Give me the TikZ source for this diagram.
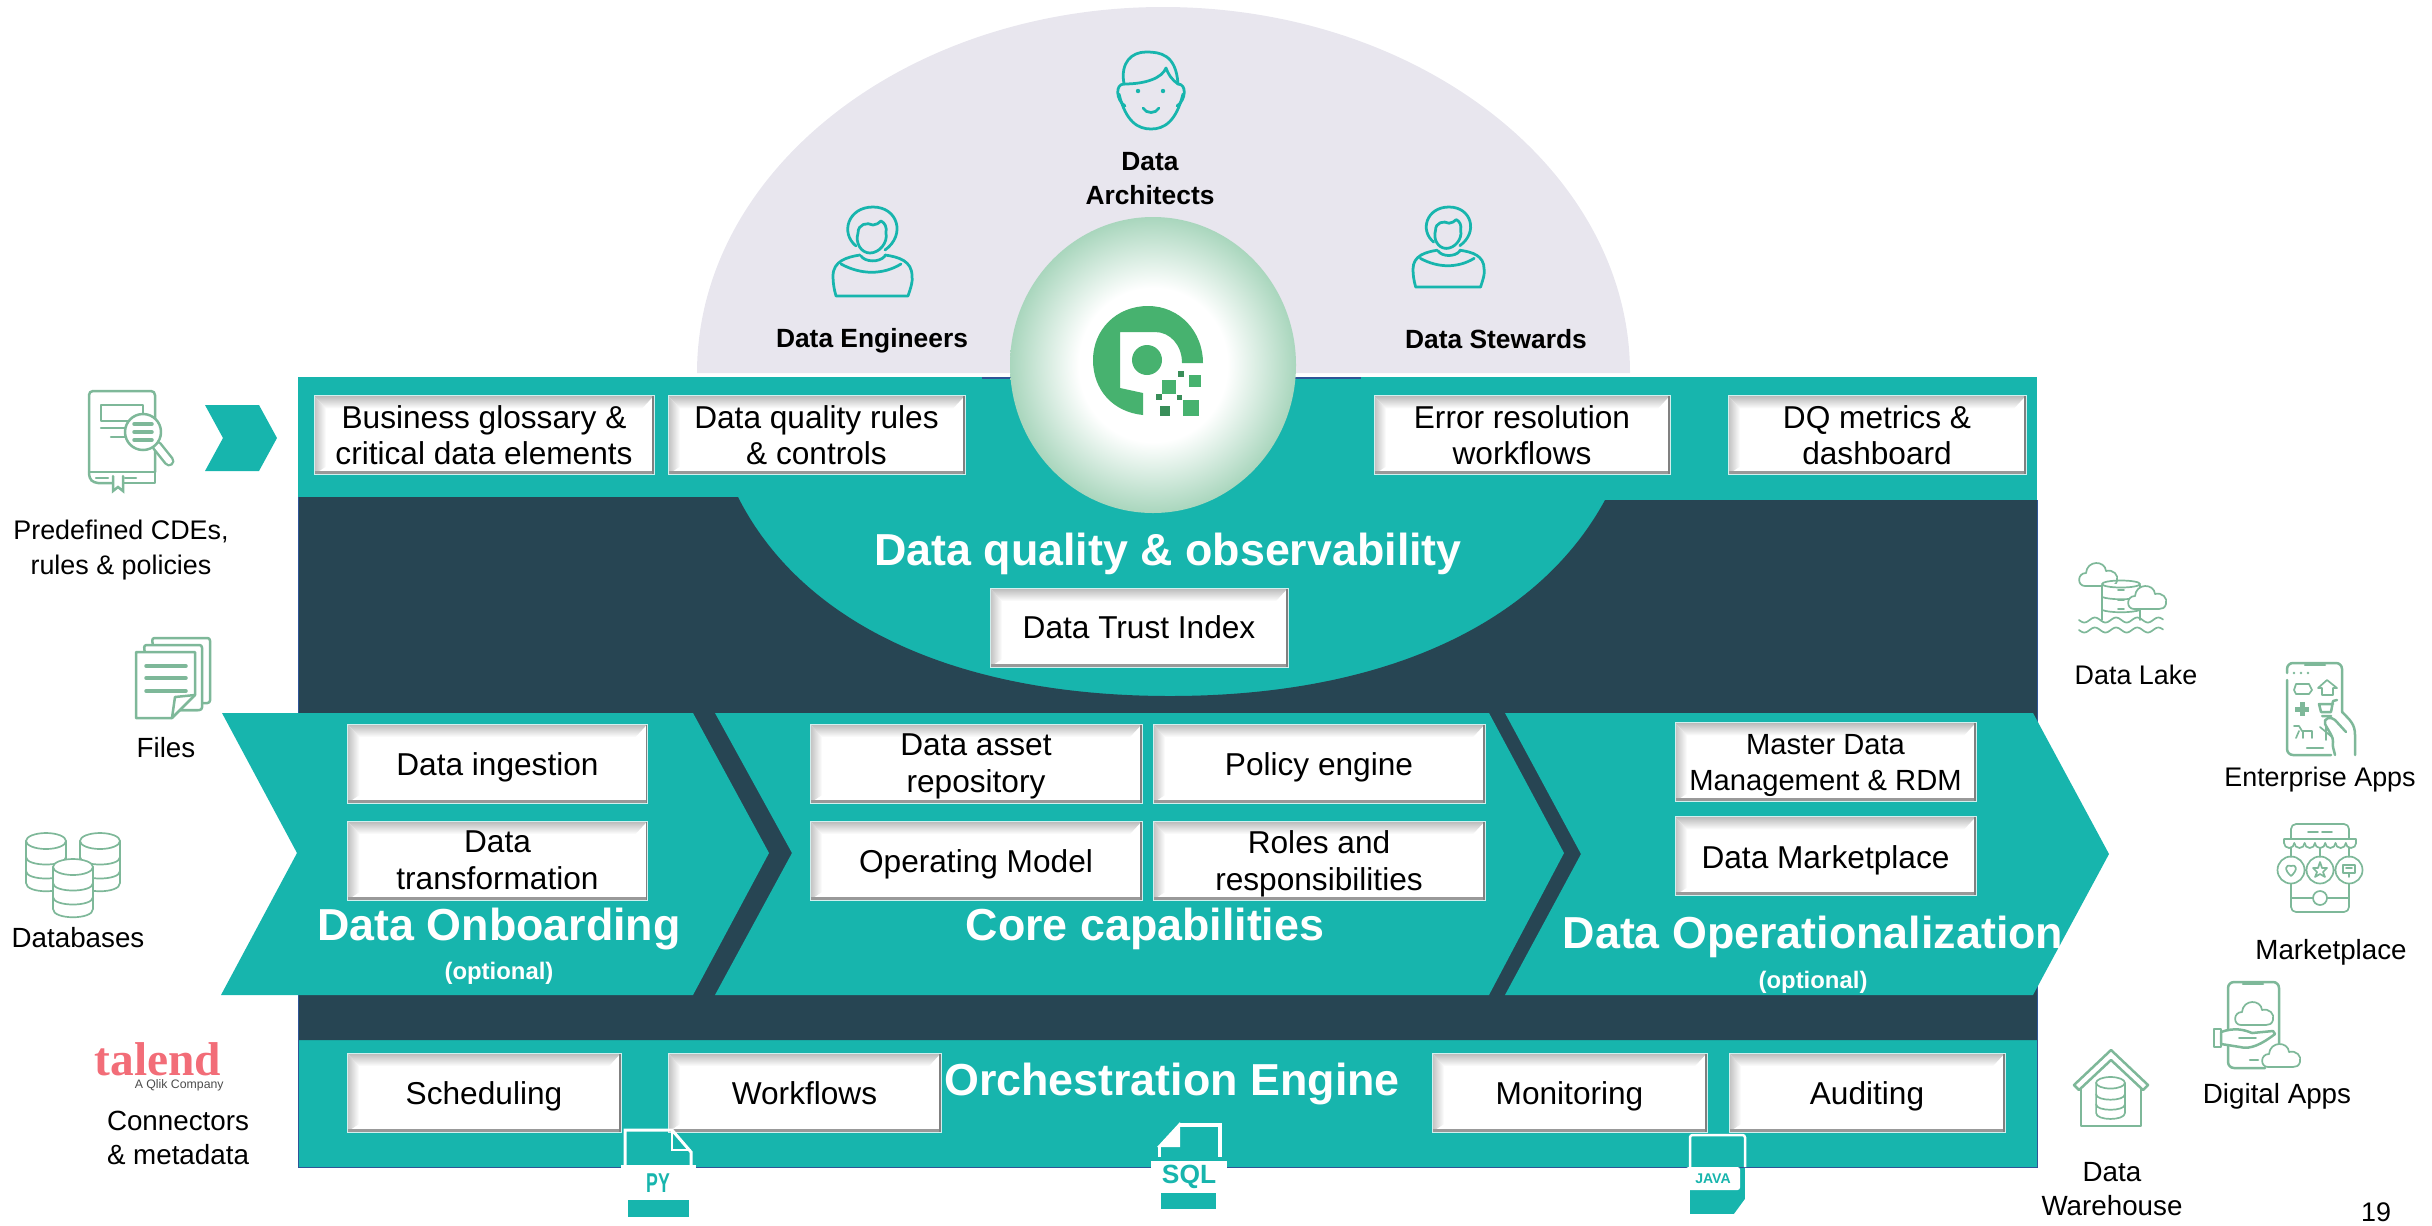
\documentclass[tikz,border=0pt]{standalone}
\usepackage{fontspec}
\usepackage{tikz}
\usetikzlibrary{positioning}
\usetikzlibrary{shapes}
\setmainfont{Liberation Sans}
\newfontfamily\talendfont{Liberation Serif}
\newfontfamily\narrowfont[FakeStretch=0.65]{Liberation Sans}
\definecolor{panelteal}{HTML}{17B5AD}
\definecolor{paneldark}{HTML}{274553}
\definecolor{domegrey}{HTML}{E8E6EE}
\definecolor{icongreen}{HTML}{7EB899}
\definecolor{logogreen}{HTML}{47B26F}
\definecolor{ballgreen}{HTML}{A9D6BD}
\definecolor{edgeblue}{HTML}{2F5597}
\definecolor{talendred}{HTML}{F26D78}
\pgfdeclareradialshading{ballglow}{\pgfpointorigin}{color(0bp)=(white); color(13bp)=(white); color(25bp)=(ballgreen); color(50bp)=(ballgreen)}
\tikzset{
  panel/.style = {fill = panelteal},
  icon/.style = {draw = icongreen, line width = .5mm, line join = round, line cap = round},
  thinicon/.style = {icon, line width = .34mm},
  personline/.style = {draw = panelteal, line width = .55mm, line join = round, line cap = round},
  filetext/.style = {text = panelteal, font = \fontsize{15}{15}\selectfont\bfseries, inner sep = 0pt},
  sidetext/.style = {align = center, inner sep = 0pt, font = \fontsize{15.8}{19.4}\selectfont},
  sidesmall/.style = {sidetext, font = \fontsize{15.3}{19.4}\selectfont},
  roletext/.style = {align = center, inner sep = 0pt, font = \fontsize{15}{19.4}\selectfont\bfseries},
  titletext/.style = {text = white, inner sep = 0pt, font = \fontsize{25.5}{30}\selectfont\bfseries},
  notetext/.style = {text = white, inner sep = 0pt, font = \fontsize{13.6}{16}\selectfont\bfseries},
  bevelbox/.style = {
    fill = white, draw = white!80!panelteal, line width = .2mm, align = center, inner sep = 0pt,
    minimum height = 15.8mm, font = \fontsize{18}{21}\selectfont,
    path picture = {
      \path (path picture bounding box.north west) coordinate (nw)
            (path picture bounding box.north east) coordinate (ne)
            (path picture bounding box.south west) coordinate (sw)
            (path picture bounding box.south east) coordinate (se);
      \shade [top color = black!28, bottom color = white]
        (nw) -- (ne) -- ([shift = {(-2.4mm,-2.6mm)}]ne) -- ([shift = {(2.4mm,-2.6mm)}]nw) -- cycle;
      \shade [left color = black!25, right color = white]
        (nw) -- ([shift = {(2.4mm,-2.6mm)}]nw) -- ([shift = {(2.4mm,1.6mm)}]sw) -- (sw) -- cycle;
      \fill [black!40] (sw) -- (se) -- ([yshift = .7mm]se) -- ([yshift = .7mm]sw) -- cycle;
      \fill [black!50] (ne) -- (se) -- ([xshift = -.4mm]se) -- ([xshift = -.4mm]ne) -- cycle;
    }
  },
  lowbox/.style = {bevelbox, execute at begin node = {\rule[-4pt]{0pt}{22pt}}},
  pics/person/.style = {code = {
    \draw [personline] (-17,39) .. controls (-33,26) and (-25,0) .. (0,0) .. controls (25,0) and (33,28) .. (12,43);
    \draw [personline] (-15,26) .. controls (-15,17) and (-6,15) .. (0,18) .. controls (3,18) and (6,16) .. (8,14)
      .. controls (12,16) and (14,20) .. (13,26) .. controls (15,36) and (6,46) .. (-3,46)
      .. controls (-12,46) and (-18,36) .. (-15,26) -- cycle;
    \draw [personline] (-13,48) .. controls (-26,50) and (-40,54) .. (-40,69) .. controls (-40,76) and (-39,82) .. (-37,89)
      -- (35,89) .. controls (38,80) and (40,74) .. (39,69) .. controls (39,54) and (26,50) .. (12,48);
    \draw [personline] (-32,57) .. controls (-12,68) and (10,68) .. (28,57);
    \draw [personline] (-12,49) .. controls (-8,55) and (6,56) .. (12,49);
  }},
  pics/cloud/.style = {code = {
    \draw [thinicon, fill = white] (6,23) .. controls (-2,23) and (-2,10) .. (7,10) .. controls (8,-3) and (26,-3) .. (27,8)
      .. controls (34,6) and (40,12) .. (38,18) .. controls (37,22) and (34,23) .. (31,23) -- cycle;
  }},
  pics/dbstack/.style = {code = {
    \draw [thinicon, fill = white] (-20,8) -- (-20,50) .. controls (-20,61) and (20,61) .. (20,50) -- (20,8);
    \draw [thinicon, fill = white] (0,8) ellipse [x radius = 20, y radius = 8];
    \draw [thinicon] (-20,24) .. controls (-20,34) and (20,34) .. (20,24);
    \draw [thinicon] (-20,38) .. controls (-20,48) and (20,48) .. (20,38);
  }},
}
\begin{document}
\begin{tikzpicture}[x = .2mm, y = -.2mm]
  \useasboundingbox (0,0) rectangle (2432,1225);
  % background
  \fill [domegrey] (697,373) .. controls (697,171) and (906,7) .. (1163,7)
    .. controls (1420,7) and (1630,171) .. (1630,373) -- cycle;
  \fill [panel] (298,377) rectangle (2037,1167);
  \fill [paneldark] (298,497) -- (738,497) .. controls (800,620) and (950,696) .. (1170,696)
    .. controls (1390,696) and (1540,620) .. (1605,500) -- (2037,500) -- (2037,1040) -- (298,1040) -- cycle;
  \draw [edgeblue, line width = .2mm] (298,497) -- (298,1167) -- (2037,1167) -- (2037,500);
  \draw [edgeblue, line width = .3mm] (982,378) -- (1361,378);
  \fill [white] (621,1165) rectangle (696,1170);
  % chevrons
  \fill [panel] (205,405) -- (259,405) -- (277,438) -- (259,471) -- (205,471) -- (223,438) -- cycle;
  \fill [panel] (222,713) -- (693,713) -- (769,853) -- (693,995) -- (221,995) -- (297,853) -- cycle;
  \fill [panel] (715,713) -- (1489,713) -- (1564,853) -- (1489,995) -- (715,995) -- (792,853) -- cycle;
  \fill [panel] (1505,713) -- (2033,713) -- (2109,854) -- (2033,995) -- (1505,995) -- (1581,854) -- cycle;
  % logo
  \shade [shading = ballglow] (1153,365) ellipse [x radius = 143, y radius = 148];
  \fill [logogreen] (1143,415) .. controls (1113,412) and (1093,390) .. (1093,360)
    .. controls (1093,330) and (1116,306) .. (1148,306) .. controls (1180,306) and (1203,332) .. (1203,363)
    -- (1182,363) .. controls (1182,345) and (1170,332) .. (1155,332) -- (1120,332) -- (1120,388) -- (1143,393) -- cycle;
  \fill [logogreen] (1147,360) circle [radius = 15];
  \fill [logogreen] (1162,380) rectangle (1176,394);
  \fill [logogreen] (1189,375) rectangle (1201,387);
  \fill [logogreen] (1183,400) rectangle (1199,416);
  \fill [logogreen!80!black] (1160,406) rectangle (1170,416);
  \fill [logogreen!80!black] (1178,371) rectangle (1184,377);
  \fill [logogreen!80!black] (1156,394) rectangle (1162,400);
  \fill [logogreen!80!black] (1177,395) rectangle (1182,400);
  % nodes
  \node [bevelbox, text depth = -2pt, minimum width = 68mm] (gloss) at (484,435) {Business glossary \&\\critical data elements};
  \node [bevelbox, text depth = -2pt, minimum width = 59.4mm, right = 2.6mm of gloss] (rules) {Data quality rules\\\& controls};
  \node [bevelbox, text depth = -2pt, minimum width = 59.2mm] (errors) at (1522,435) {Error resolution\\workflows};
  \node [bevelbox, text depth = -2pt, minimum width = 59.6mm] (metrics) at (1877,435) {DQ metrics \&\\dashboard};
  \node [bevelbox, text depth = -2pt, minimum width = 59.6mm] (trust) at (1139,627.5) {Data Trust Index};
  \node [lowbox, minimum width = 60mm] (ingest) at (497.5,763.5) {Data ingestion};
  \node [bevelbox, minimum width = 60mm, below = 3.4mm of ingest] (transform) {Data\\transformation};
  \node [bevelbox, text depth = -3.2pt, minimum width = 66.4mm] (asset) at (976,763.5) {Data asset\\repository};
  \node [lowbox, minimum width = 66.4mm, right = 2mm of asset] (policy) {Policy engine};
  \node [lowbox, minimum width = 66.4mm, below = 3.4mm of asset] (model) {Operating Model};
  \node [bevelbox, text depth = -.6pt, minimum width = 66.4mm, below = 3.4mm of policy] (roles) {Roles and\\responsibilities};
  \node [bevelbox, text depth = -3.2pt, minimum width = 60.2mm, font = \fontsize{16.6}{20.5}\selectfont] (master) at (1825.5,762) {Master Data\\Management \& RDM};
  \node [lowbox, minimum width = 60.2mm, below = 2.8mm of master] (market) {Data Marketplace};
  \node [lowbox, minimum width = 54.8mm] (sched) at (484,1092.5) {Scheduling};
  \node [lowbox, minimum width = 54.6mm, right = 9.2mm of sched] (flows) {Workflows};
  \node [lowbox, minimum width = 55mm] (monitor) at (1569.5,1092.5) {Monitoring};
  \node [lowbox, minimum width = 55.2mm, right = 4.2mm of monitor] (audit) {Auditing};
  % titles
  \node [titletext] (quality) at (1168,554) {Data quality \& observability};
  \node [titletext] (onboard) at (499,929) {Data Onboarding};
  \node [notetext, below = 2.2mm of onboard] (onboardnote) {(optional)};
  \node [titletext] (core) at (1145,929) {Core capabilities};
  \node [titletext] (operate) at (1813,937) {Data Operationalization};
  \node [notetext, below = 2.5mm of operate] (operatenote) {(optional)};
  \node [titletext] (engine) at (1172,1084) {Orchestration Engine};
  % labels
  \node [roletext] (architects) at (1150,179) {Data\\Architects};
  \node [roletext] (engineers) at (872,341) {Data Engineers};
  \node [roletext] (stewards) at (1496,339) {Data Stewards};
  \node [sidesmall] (cdes) at (121,550) {Predefined CDEs,\\rules \& policies};
  \node [sidetext] (files) at (166,748) {Files};
  \node [sidetext] (databases) at (78,938) {Databases};
  \node [sidetext] (connectors) at (178,1138) {Connectors\\\& metadata};
  \node [sidesmall] (lake) at (2136,675) {Data Lake};
  \node [sidesmall] (enterprise) at (2320,780) {Enterprise Apps};
  \node [sidetext] (marketplace) at (2331,952) {Marketplace};
  \node [sidetext] (digital) at (2277,1096) {Digital Apps};
  \node [sidetext] (warehouse) at (2112,1189) {Data\\Warehouse};
  \node [sidesmall] (page) at (2376,1212) {19};
  \node [inner sep = 0pt, text = talendred, font = \fontsize{27}{27}\selectfont\talendfont\bfseries] (talend) at (158,1059) {talend};
  \node [inner sep = 0pt, anchor = east, font = \fontsize{7}{7.5}\selectfont, text = black!70] (qlik) at (224,1085) {A Qlik Company};
  % people
  \draw [personline] (1119,94) .. controls (1126,122) and (1138,129) .. (1151,129) .. controls (1164,129) and (1176,122) .. (1183,94);
  \draw [personline] (1124,84) .. controls (1115,84) and (1116,100) .. (1125,106);
  \draw [personline] (1178,84) .. controls (1187,84) and (1186,100) .. (1177,106);
  \draw [personline] (1124,84) .. controls (1120,62) and (1132,52) .. (1146,52) .. controls (1160,52) and (1176,54) .. (1178,84);
  \draw [personline] (1124,84) .. controls (1146,84) and (1162,78) .. (1166,68) .. controls (1168,74) and (1172,80) .. (1178,84);
  \fill [panelteal] (1138,91) circle [radius = 2.2] (1163,91) circle [radius = 2.2];
  \draw [personline] (1143,108) .. controls (1146,114) and (1156,114) .. (1159,108);
  \pic at (873,207) {person};
  \pic [scale = .9] at (1449,207) {person};
  % file icons
  \draw [draw = white, line width = .6mm] (625,1166) -- (625,1130) -- (672,1130) -- (691,1152) -- (691,1166);
  \draw [draw = white, line width = .5mm] (672,1130) -- (672,1150) -- (691,1150);
  \node [filetext, font = \fontsize{15.5}{16}\selectfont\narrowfont\bfseries] (py) at (658,1183) {PY};
  \fill [panel] (628,1200) rectangle (689,1217);
  \draw [draw = white, line width = .6mm] (1159,1157) -- (1159,1147);
  \fill [white] (1180,1122) -- (1157,1147) -- (1180,1147) -- cycle;
  \draw [draw = white, line width = .8mm] (1180,1125) -- (1220,1125) -- (1220,1157);
  \fill [white] (1151,1161) rectangle (1227,1193);
  \node [filetext] (sql) at (1189,1177) {SQL};
  \fill [panel] (1161,1193) rectangle (1216,1209);
  \draw [draw = white, line width = .5mm, rounded corners = .5mm] (1690,1167) -- (1690,1135) -- (1745,1135) -- (1745,1167);
  \fill [panel] (1690,1168) rectangle (1745,1214);
  \fill [white, rounded corners = .5mm] (1686,1167) rectangle (1740,1190);
  \node [filetext, font = \fontsize{8}{9}\selectfont\bfseries] (java) at (1713,1178.5) {JAVA};
  \fill [white] (1745,1199) -- (1734,1214) -- (1745,1214) -- cycle;
  % book
  \draw [icon, rounded corners = .8mm] (155,472) -- (155,391) -- (89,391) -- (89,478) -- (94,483) -- (112,483);
  \draw [icon] (101,405) rectangle (143,421);
  \draw [icon] (101,428) -- (125,428) (111,437) -- (125,437);
  \draw [icon] (89,472) -- (155,472) (124,483) -- (155,483) -- (155,472);
  \draw [icon] (96,478) -- (108,478) (125,478) -- (136,478);
  \draw [icon, line join = miter] (113,476) -- (113,491) -- (118,487) -- (123,491) -- (123,476);
  \draw [icongreen, line width = 2.2mm, line cap = round] (157,446) -- (169,461);
  \draw [white, line width = 1.2mm, line cap = round] (157,446) -- (169,461);
  \draw [icon, fill = white] (143,432) circle [radius = 18];
  \draw [icon, line width = .7mm] (134,424) -- (152,424) (134,432) -- (152,432) (134,440) -- (152,440);
  % files
  \draw [icon, fill = white, rounded corners = .5mm] (152,638) -- (210,638) -- (210,703) -- (200,703) -- (200,710) -- (160,710) -- cycle;
  \draw [icon, fill = white, rounded corners = .5mm] (144,645) -- (202,645) -- (202,710) -- (150,710) -- cycle;
  \draw [icon, fill = white] (136,652) -- (195,652) -- (195,695) -- (172,718) -- (136,718) -- cycle;
  \draw [icon] (195,695) -- (175,697) -- (172,718);
  \draw [icon, line width = .7mm] (146,666) -- (186,666) (146,678) -- (186,678) (146,691) -- (186,691);
  % databases
  \pic at (46,833) {dbstack};
  \pic at (100,833) {dbstack};
  \pic at (73,859) {dbstack};
  % data lake
  \pic at (2079,563) {cloud};
  \fill [white] (2102,584) rectangle (2140,620);
  \draw [thinicon] (2102,585) -- (2102,620) (2140,585) -- (2140,620);
  \draw [thinicon] (2121,584) ellipse [x radius = 19, y radius = 3.5];
  \draw [thinicon] (2102,597) .. controls (2110,600) and (2132,600) .. (2140,597)
    (2102,610) .. controls (2110,613) and (2132,613) .. (2140,610);
  \draw [thinicon] (2118,590) -- (2124,590) (2118,600) -- (2124,600) (2118,609) -- (2124,609);
  \pic at (2128,586) {cloud};
  \draw [thinicon, domain = 2079:2163, samples = 60] plot (\x, {620 + 2.5*sin((\x - 2079)*17)});
  \draw [thinicon, domain = 2079:2163, samples = 60] plot (\x, {630 + 2.5*sin((\x - 2079)*17)});
  % enterprise apps
  \draw [icon, rounded corners = 1.2mm] (2287,673) -- (2287,663) -- (2342,663) -- (2342,712);
  \draw [icon, rounded corners = 1.2mm] (2287,680) -- (2287,755) -- (2331,755);
  \draw [icon] (2305,665) -- (2325,665) (2307,748) -- (2323,748);
  \fill [icongreen] (2294,673) circle [radius = 1.3] (2301,673) circle [radius = 1.3] (2308,673) circle [radius = 1.3];
  \draw [thinicon] (2294,690) -- (2296,684) -- (2309,684) -- (2312,690) -- (2309,694) -- (2296,694) -- cycle;
  \draw [thinicon, fill = white] (2318,688) -- (2327,680) -- (2337,688) -- (2333,688) -- (2333,695) -- (2322,695) -- (2322,688) -- cycle;
  \draw [icongreen, line width = 1mm] (2302,702) -- (2302,716) (2295,709) -- (2309,709);
  \draw [icon] (2337,700) -- (2333,701) -- (2331,712) -- (2321,712) -- (2319,704) -- (2333,704) (2322,716) -- (2331,716);
  \draw [thinicon] (2294,726) -- (2299,726) -- (2302,731) -- (2312,731) -- (2312,738) (2303,731) -- (2303,738) (2299,731) -- (2296,738);
  \draw [thinicon] (2320,727) -- (2332,737) (2326,725) -- (2326,740);
  \draw [icon] (2342,712) .. controls (2350,720) and (2355,724) .. (2355,735) -- (2355,755);
  \draw [icon, fill = white] (2346,732) -- (2335,720) .. controls (2331,716) and (2323,718) .. (2325,724) .. controls (2328,730) and (2334,738) .. (2333,742) .. controls (2332,746) and (2334,750) .. (2335,755);
  % marketplace
  \draw [thinicon, rounded corners = 1mm] (2291,839) -- (2291,824) -- (2349,824) -- (2349,839);
  \draw [thinicon] (2308,832) -- (2318,832) (2322,832) -- (2332,832);
  \draw [thinicon] (2284,839) -- (2356,839) (2284,839) -- (2284,843) (2356,839) -- (2356,843);
  \foreach \sx in {0,...,6}
    \draw [thinicon] (2284 + \sx*10.3,843) arc [start angle = 180, end angle = 0, x radius = 5.15, y radius = 5];
  \draw [thinicon] (2291,857) -- (2291,848) (2349,857) -- (2349,848) (2320,848) -- (2320,857);
  \draw [thinicon, rounded corners = 1mm] (2291,884) -- (2291,912) -- (2349,912) -- (2349,884);
  \draw [thinicon] (2291,898) -- (2313,898) (2327,898) -- (2349,898);
  \draw [thinicon] (2320,898) circle [radius = 7];
  \draw [thinicon] (2291,870) circle [radius = 13.5] (2320,870) circle [radius = 13.5] (2349,870) circle [radius = 13.5];
  \draw [thinicon] (2291,876) .. controls (2284,870) and (2285,864) .. (2291,866) .. controls (2297,864) and (2298,870) .. (2291,876);
  \draw [thinicon] (2320,862) -- (2322,868) -- (2327,868) -- (2323,872) -- (2325,877) -- (2320,874) -- (2315,877) -- (2317,872) -- (2313,868) -- (2318,868) -- cycle;
  \draw [thinicon] (2343,865) rectangle (2355,873) (2346,868) -- (2352,868) (2349,873) -- (2349,877);
  % digital apps
  \draw [icon, rounded corners = 1.2mm] (2265,1068) -- (2228,1068) -- (2228,982) -- (2279,982) -- (2279,1046);
  \draw [icon] (2243,984) -- (2263,984) (2250,1060) -- (2258,1060);
  \pic at (2235,1002) {cloud};
  \draw [icon, fill = white] (2221,1032) .. controls (2235,1027) and (2245,1030) .. (2252,1033) -- (2273,1031) -- (2275,1034) .. controls (2262,1044) and (2250,1050) .. (2240,1047) -- (2221,1044) -- cycle;
  \draw [icon] (2214,1029) rectangle (2221,1047);
  \draw [thinicon] (2239,1038) -- (2256,1038);
  \pic at (2262,1044) {cloud};
  % warehouse
  \draw [icon] (2081,1089) -- (2081,1126) -- (2141,1126) -- (2141,1089);
  \draw [icon, fill = white] (2074,1085) -- (2111,1050) -- (2148,1085) -- (2143,1090) -- (2111,1060) -- (2079,1090) -- cycle;
  \pic [scale = .72] at (2110.5,1077) {dbstack};
\end{tikzpicture}
\end{document}
